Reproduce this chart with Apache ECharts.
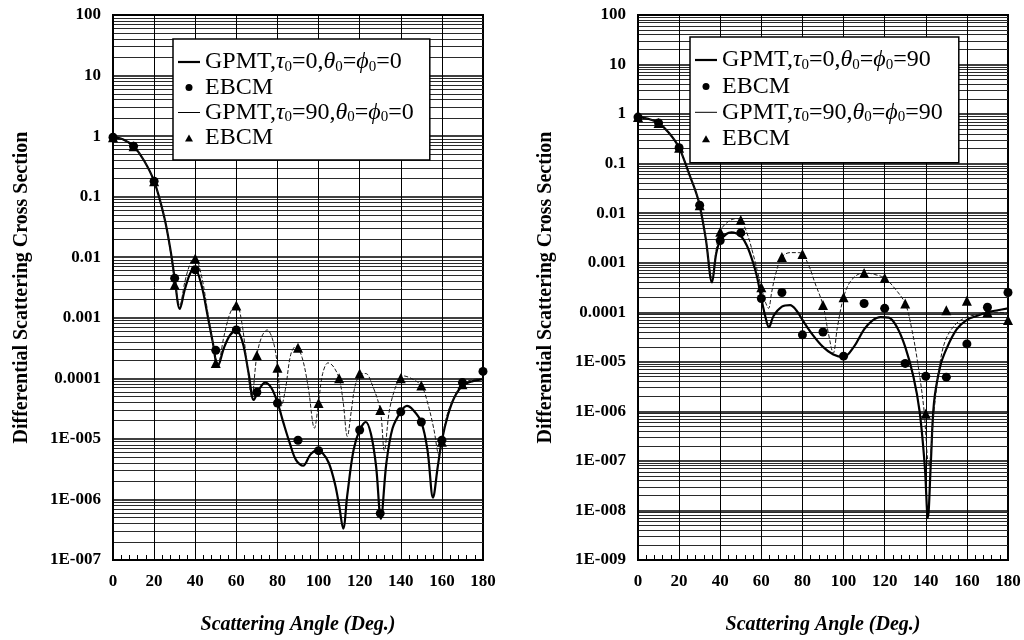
<!DOCTYPE html>
<html>
<head>
<meta charset="utf-8">
<title>Differential Scattering Cross Section</title>
<script src="https://cdn.jsdelivr.net/npm/echarts@6/dist/echarts.min.js"></script>
<style>
  html, body { margin: 0; padding: 0; background: #fff; }
  #chart { width: 1024px; height: 640px; }
</style>
</head>
<body>
<div id="chart"></div>
<script>
// EBCM sample angles (deg)
const ebcmAngles = [0, 10, 20, 30, 40, 50, 60, 70, 80, 90, 100, 110, 120, 130, 140, 150, 160, 170, 180];

// ---- Left panel: theta0 = phi0 = 0 ----
const leftGpmtTau0 = [
  [0, 0.96], [5, 0.88], [10, 0.68], [15, 0.4], [20, 0.18], [25, 0.045], [28, 0.013], [30, 0.0045],
  [32.5, 0.0014], [35, 0.003], [38, 0.0058], [40, 0.0062], [43, 0.0035], [46, 0.0011], [48.5, 0.0004],
  [51, 0.00016], [54, 0.00032], [57, 0.00052], [60, 0.0006], [63, 0.0004], [66, 0.00012], [68.5, 0.000044],
  [71, 0.000065], [74, 0.000085], [77, 0.00007], [80, 0.00004], [83, 0.000018], [86, 0.0000085],
  [89, 0.0000045], [92.5, 0.0000036], [96, 0.0000055], [99, 0.0000064], [102, 0.0000058], [105, 0.000004],
  [108, 0.0000018], [110, 0.0000008], [112, 0.00000033], [114, 0.0000012], [117, 0.0000065], [120, 0.000014],
  [123, 0.000019], [125.5, 0.000012], [128, 0.0000035], [130.3, 0.00000048], [133, 0.000004], [136, 0.000015],
  [140, 0.000028], [143, 0.000035], [146, 0.00003], [150, 0.000019], [153, 0.0000065], [155.7, 0.00000107],
  [158, 0.0000035], [160, 0.0000095], [163, 0.000025], [166, 0.000048], [170, 0.000075], [175, 0.00009],
  [180, 0.000097]
];
const leftGpmtTau90 = [
  [0, 0.96], [5, 0.88], [10, 0.68], [15, 0.4], [20, 0.18], [25, 0.045], [28, 0.012], [30, 0.004],
  [32.5, 0.0016], [35, 0.004], [38, 0.0085], [40, 0.0093], [43, 0.005], [46, 0.0013], [48.5, 0.0004],
  [51, 0.00017], [54, 0.0005], [57, 0.0012], [60, 0.0017], [62.5, 0.0009], [65, 0.0002], [67.5, 0.00005],
  [70, 0.00024], [72.5, 0.0005], [75, 0.00063], [78, 0.0004], [80, 0.00016], [82, 0.000035], [84, 0.00007],
  [86.5, 0.00025], [89, 0.00034], [92, 0.00022], [95, 0.00007], [98, 0.000015], [100, 0.00004], [102, 0.00012],
  [104.6, 0.00018], [107, 0.00016], [110, 0.0001], [112, 0.00004], [114, 0.000011], [116, 0.00003],
  [118, 0.00008], [121, 0.00012], [123, 0.00012], [126, 0.00008], [130, 0.00003], [132, 0.0000064],
  [134.5, 0.00003], [138, 0.00008], [141, 0.00011], [145, 0.0001], [150, 0.000076], [153, 0.00004],
  [156, 0.000015], [158.6, 0.0000054], [161, 0.000015], [164, 0.000035], [170, 0.00008], [175, 0.000095],
  [180, 0.0001]
];
const leftEbcmTau0 = [0.96, 0.68, 0.18, 0.0045, 0.0062, 0.00029, 0.00063, 0.000059, 0.000039, 0.0000095,
  0.0000064, null, 0.000014, 0.00000059, 0.000028, 0.000019, 0.0000095, 0.000085, 0.00013];
const leftEbcmTau90 = [0.96, 0.68, 0.18, 0.0035, 0.0095, 0.00018, 0.0016, 0.00024, 0.00015, 0.00032,
  0.000039, 0.0001, 0.00012, 0.00003, 0.0001, 0.000076, 0.000009, 0.00008, null];

// ---- Right panel: theta0 = phi0 = 90 ----
const rightGpmtTau0 = [
  [0, 0.87], [5, 0.8], [10, 0.66], [15, 0.42], [20, 0.21], [25, 0.06], [28, 0.028], [30, 0.0145],
  [33, 0.003], [36, 0.0004], [38, 0.0015], [40, 0.0028], [43, 0.0038], [45.5, 0.0041], [48, 0.0039],
  [50, 0.0035], [53, 0.0022], [56, 0.001], [58, 0.0005], [60, 0.00019], [62, 0.00008], [63.7, 0.00005],
  [66, 0.000085], [70, 0.00013], [74, 0.00014], [77, 0.00011], [80, 0.00007], [85, 0.000035], [90, 0.00002],
  [95, 0.000014], [100, 0.0000125], [105, 0.00002], [110, 0.000045], [114, 0.000068], [118, 0.00008],
  [122, 0.000078], [126, 0.00005], [130, 0.00002], [134, 0.000005], [137, 0.000001], [139.5, 0.00000008],
  [141, 0.000000007], [142.5, 0.0000001], [144, 0.0000015], [147, 0.000008], [150, 0.000018],
  [155, 0.000045], [160, 0.00007], [165, 0.000085], [170, 0.0001], [175, 0.00011], [180, 0.00012]
];
const rightGpmtTau90 = [
  [0, 0.87], [5, 0.8], [10, 0.66], [15, 0.42], [20, 0.21], [25, 0.06], [28, 0.028], [30, 0.0145],
  [33, 0.003], [36, 0.0005], [38, 0.0018], [40, 0.0044], [44, 0.0068], [48, 0.0078], [50, 0.0073],
  [53, 0.004], [56, 0.0015], [58, 0.0007], [60, 0.00032], [62, 0.00016], [63.5, 0.00012], [65, 0.00025],
  [67, 0.0006], [70, 0.0013], [74, 0.0016], [78, 0.0016], [80, 0.0015], [83, 0.0009], [86, 0.0004],
  [90, 0.00014], [92.5, 0.00004], [95, 0.000015], [97, 0.00005], [100, 0.0002], [103, 0.0004],
  [107, 0.00058], [111, 0.00062], [115, 0.00058], [120, 0.00049], [125, 0.0003], [130, 0.00015],
  [133, 0.00005], [136, 0.00001], [139, 0.0000012], [141.5, 0.00000008], [144, 0.000001], [147, 0.00001],
  [150, 0.00003], [155, 0.00006], [160, 0.00008], [165, 0.00009], [170, 0.0001], [175, 0.0001], [180, 0.000095]
];
const rightEbcmTau0 = [0.87, 0.66, 0.21, 0.0145, 0.0028, 0.004, 0.00019, 0.00025, 0.000035, 0.00004,
  0.000013, 0.00015, 0.00012, 0.0000093, 0.0000051, 0.0000049, 0.000023, 0.000126, 0.00025];
const rightEbcmTau90 = [0.87, 0.66, 0.21, 0.0145, 0.0042, 0.0073, 0.00032, 0.0013, 0.0015, 0.00014,
  0.0002, 0.00062, 0.00049, 0.00015, 0.0000009, 0.00011, 0.00017, 0.0001, 0.00007];

// Tick labels, bottom decade first
const leftYTicks = ['1E-007', '1E-006', '1E-005', '0.0001', '0.001', '0.01', '0.1', '1', '10', '100'];
const rightYTicks = ['1E-009', '1E-008', '1E-007', '1E-006', '1E-005', '0.0001', '0.001', '0.01', '0.1', '1', '10', '100'];
const xTicks = [0, 20, 40, 60, 80, 100, 120, 140, 160, 180];

// Legend entries (rich text with subscripts)
const legendText = {
  'l-g0': '{t|GPMT,}{g|τ}{s|0}{t|=0,}{g|θ}{s|0}{t|=}{g|ϕ}{s|0}{t|=0}',
  'l-e0': '{t|EBCM}',
  'l-g90': '{t|GPMT,}{g|τ}{s|0}{t|=90,}{g|θ}{s|0}{t|=}{g|ϕ}{s|0}{t|=0}',
  'l-e90': '{t|EBCM}',
  'r-g0': '{t|GPMT,}{g|τ}{s|0}{t|=0,}{g|θ}{s|0}{t|=}{g|ϕ}{s|0}{t|=90}',
  'r-e0': '{t|EBCM}',
  'r-g90': '{t|GPMT,}{g|τ}{s|0}{t|=90,}{g|θ}{s|0}{t|=}{g|ϕ}{s|0}{t|=90}',
  'r-e90': '{t|EBCM}'
};

const SERIF = '"Liberation Serif", "Times New Roman", "DejaVu Serif", serif';
const THICK_ICON = 'path://M0,0L22,0L22,2.2L0,2.2Z';
const THIN_ICON = 'path://M0,0L22,0L22,1L0,1Z';
const TRIANGLE_ICON = 'path://M4,0L8,7L0,7Z';

function pairs(angles, values) {
  return angles.map((a, i) => [a, values[i]]);
}

function xAxisFor(gridIndex) {
  return {
    type: 'value', gridIndex, min: 0, max: 180, interval: 20,
    name: 'Scattering Angle (Deg.)', nameLocation: 'middle', nameGap: 55,
    nameTextStyle: { fontFamily: SERIF, fontSize: 20, fontWeight: 'bold', fontStyle: 'italic', color: '#000' },
    axisLine: { show: true, lineStyle: { color: '#000', width: 2 } },
    axisTick: { show: true, inside: true, length: 5, lineStyle: { color: '#000' } },
    minorTick: { show: true, splitNumber: 5, length: 5, lineStyle: { color: '#000' } },
    axisLabel: { fontFamily: SERIF, fontSize: 17, fontWeight: 'bold', color: '#000', margin: 13,
      formatter: (v) => String(xTicks[Math.round(v / 20)]) },
    splitLine: { show: true, lineStyle: { color: '#000', width: 1 } },
    minorSplitLine: { show: false }
  };
}

function yAxisFor(gridIndex, minV, labels, nameGap) {
  const minExp = Math.round(Math.log10(minV));
  return {
    type: 'log', logBase: 10, gridIndex, min: minV, max: 100, interval: 1,
    name: 'Differential Scattering Cross Section', nameLocation: 'middle', nameGap,
    nameRotate: 90,
    nameTextStyle: { fontFamily: SERIF, fontSize: 20, fontWeight: 'bold', color: '#000' },
    axisLine: { show: true, lineStyle: { color: '#000', width: 2 } },
    axisTick: { show: false },
    minorTick: { show: false, splitNumber: 9 },
    axisLabel: { fontFamily: SERIF, fontSize: 17, fontWeight: 'bold', color: '#000', margin: 12,
      formatter: (v) => labels[Math.round(Math.log10(v)) - minExp] },
    splitLine: { show: true, lineStyle: { color: '#000', width: 1.6 } },
    minorSplitLine: { show: true, lineStyle: { color: '#2a2a2a', width: 1 } }
  };
}

function curve(name, data, axis, thick) {
  return {
    name, type: 'line', xAxisIndex: axis, yAxisIndex: axis, data,
    smooth: 0.35, symbol: 'none', showSymbol: false, z: 3,
    itemStyle: { color: '#000' },
    lineStyle: thick
      ? { color: '#000', width: 2.2, type: 'solid' }
      : { color: '#1a1a1a', width: 1, type: [4, 2] }
  };
}

function points(name, values, axis, symbol, size) {
  return {
    name, type: 'scatter', xAxisIndex: axis, yAxisIndex: axis,
    data: pairs(ebcmAngles, values).filter((p) => p[1] != null),
    symbol, symbolSize: size, z: 4,
    itemStyle: { color: '#000', opacity: 1 }
  };
}

function legendFor(names, left, top, itemGap, padding) {
  return {
    orient: 'vertical', left, top,
    data: [
      { name: names[0], icon: THICK_ICON },
      { name: names[1], icon: 'circle' },
      { name: names[2], icon: THIN_ICON },
      { name: names[3], icon: TRIANGLE_ICON }
    ],
    backgroundColor: '#fff', borderColor: '#000', borderWidth: 1.5,
    padding, itemGap, itemWidth: 22, itemHeight: 7,
    selectedMode: false,
    formatter: (n) => legendText[n],
    textStyle: {
      color: '#000', fontFamily: SERIF, fontSize: 24,
      rich: {
        t: { fontFamily: SERIF, fontSize: 24, lineHeight: 25, color: '#000' },
        g: { fontFamily: SERIF, fontSize: 24, lineHeight: 25, fontStyle: 'italic', color: '#000' },
        s: { fontFamily: SERIF, fontSize: 15, lineHeight: 13, verticalAlign: 'bottom', color: '#000' }
      }
    }
  };
}

const chart = echarts.init(document.getElementById('chart'), null, { renderer: 'canvas' });
chart.setOption({
  animation: false,
  backgroundColor: '#fff',
  grid: [
    { left: 113, right: 541, top: 15, bottom: 80, show: true, borderColor: '#000', borderWidth: 2, backgroundColor: 'transparent' },
    { left: 638, right: 16, top: 15, bottom: 80, show: true, borderColor: '#000', borderWidth: 2, backgroundColor: 'transparent' }
  ],
  xAxis: [xAxisFor(0), xAxisFor(1)],
  yAxis: [yAxisFor(0, 1e-7, leftYTicks, 81), yAxisFor(1, 1e-9, rightYTicks, 82)],
  legend: [
    legendFor(['l-g0', 'l-e0', 'l-g90', 'l-e90'], 173, 39, 1, [11, 16, 10, 5]),
    legendFor(['r-g0', 'r-e0', 'r-g90', 'r-e90'], 690, 37, 1.9, [11, 16, 12, 5])
  ],
  series: [
    curve('l-g0', leftGpmtTau0, 0, true),
    points('l-e0', leftEbcmTau0, 0, 'circle', 9),
    curve('l-g90', leftGpmtTau90, 0, false),
    points('l-e90', leftEbcmTau90, 0, 'triangle', 10),
    curve('r-g0', rightGpmtTau0, 1, true),
    points('r-e0', rightEbcmTau0, 1, 'circle', 9),
    curve('r-g90', rightGpmtTau90, 1, false),
    points('r-e90', rightEbcmTau90, 1, 'triangle', 10)
  ]
});
</script>
</body>
</html>
